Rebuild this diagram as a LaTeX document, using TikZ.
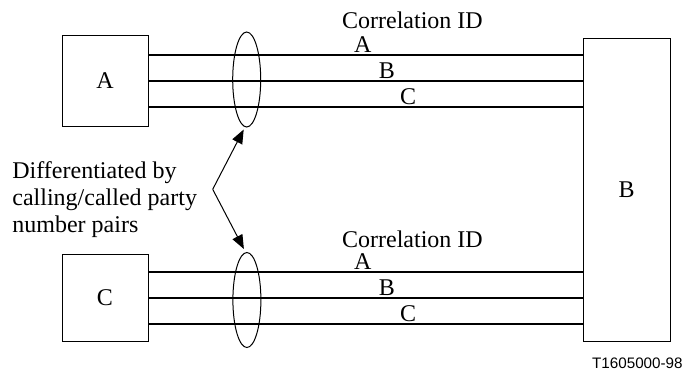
\documentclass[tikz,border=0pt]{standalone}
\usepackage{fontspec}
\setmainfont{Liberation Serif}
\newfontfamily\arialfont{Liberation Sans}
\usetikzlibrary{arrows.meta,shapes.geometric}

\tikzset{
  box/.style = {draw, line width = 0.5pt, inner sep = 0pt},
  ring/.style = {draw, ellipse, line width = 0.5pt, inner sep = 0pt, minimum width = 14pt, minimum height = 47.5pt},
  wire/.style = {line width = 1pt},
  pointer/.style = {line width = 0.5pt, -{Triangle[length = 7pt, width = 5.5pt]}},
  tag/.style = {anchor = base, yshift = 1pt, inner sep = 0pt}
}

\begin{document}
\begin{tikzpicture}[x = 0.5pt, y = -0.5pt, font = \fontsize{12}{13.5}\selectfont]
\useasboundingbox (0,0) rectangle (685,371);

\node[box, minimum width = 43pt, minimum height = 45.5pt] (boxA) at (105,80.5) {A};
\node[box, minimum width = 43pt, minimum height = 43.5pt] (boxC) at (105,297.5) {C};
\node[box, minimum width = 43.5pt, minimum height = 151.5pt] (boxB) at (626.5,190) {B};

% wires A -> B and C -> B
\foreach \n/\dy/\t/\p in {1/13pt/A/0.494, 2/0pt/B/0.549, 3/-13pt/C/0.598} {
  \coordinate (a\n) at ([yshift = \dy]boxA.east);
  \coordinate (c\n) at ([yshift = \dy]boxC.east);
  \draw[wire] (a\n) -- (a\n -| boxB.west) node[tag, pos = \p] {\t};
  \draw[wire] (c\n) -- (c\n -| boxB.west) node[tag, pos = \p] {\t};
}

\node[ring] (ringA) at (246.7,79.5) {};
\node[ring] (ringC) at (246.9,300) {};

\node[anchor = base west, inner sep = 0pt] (corrA) at (341.7,28) {Correlation ID};
\node[anchor = base west, inner sep = 0pt] (corrC) at (341.7,247) {Correlation ID};

\node[anchor = north west, inner sep = 0pt, align = left] (diff) at (12,161)
  {Differentiated by\\calling/called party\\number pairs};

\coordinate (kink) at (212.7,189.3);
\draw[pointer] (kink) -- ([xshift = -1.5pt, yshift = -1pt]ringA.south);
\draw[pointer] (kink) -- ([xshift = -1.5pt, yshift = 1.5pt]ringC.north);

\node[anchor = base east, inner sep = 0pt, font = \arialfont\fontsize{7.6}{9}\selectfont] (code) at (683,368) {T1605000-98};
\end{tikzpicture}
\end{document}
